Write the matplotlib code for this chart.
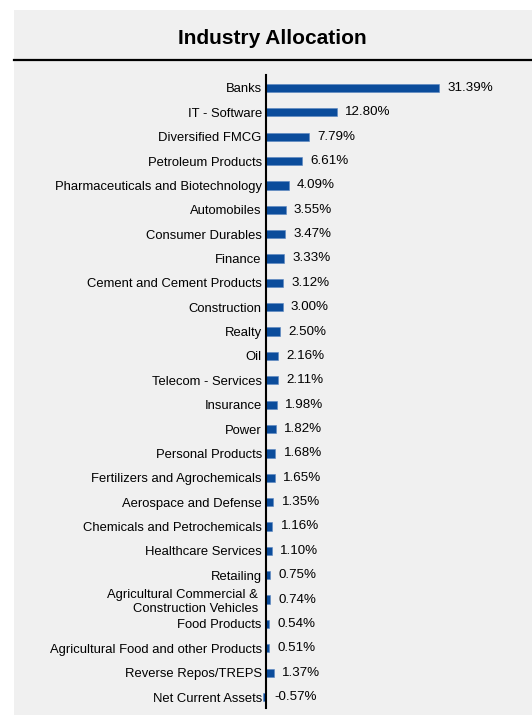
import numpy as np
from matplotlib import pyplot as plt
from matplotlib.patches import Rectangle
from matplotlib.lines import Line2D

plt.rcParams['font.family'] = ['Liberation Sans', 'DejaVu Sans']

industries = ['Banks', 'IT - Software', 'Diversified FMCG', 'Petroleum Products',
              'Pharmaceuticals and Biotechnology', 'Automobiles', 'Consumer Durables',
              'Finance', 'Cement and Cement Products', 'Construction', 'Realty', 'Oil',
              'Telecom - Services', 'Insurance', 'Power', 'Personal Products',
              'Fertilizers and Agrochemicals', 'Aerospace and Defense',
              'Chemicals and Petrochemicals', 'Healthcare Services', 'Retailing',
              'Agricultural Commercial & \nConstruction Vehicles ', 'Food Products',
              'Agricultural Food and other Products', 'Reverse Repos/TREPS',
              'Net Current Assets']
weights = [31.39, 12.80, 7.79, 6.61, 4.09, 3.55, 3.47, 3.33, 3.12, 3.00, 2.50, 2.16,
           2.11, 1.98, 1.82, 1.68, 1.65, 1.35, 1.16, 1.10, 0.75, 0.74, 0.54, 0.51,
           1.37, -0.57]

W, H = 532, 715
fig = plt.figure(figsize=(W / 100, H / 100), dpi=100)
fig.patch.set_facecolor('white')

# grey panel + title rule
fig.patches.append(Rectangle((14 / W, 0), 1, 1 - 10 / H, transform=fig.transFigure,
                             facecolor='#f0f0f0', edgecolor='none', zorder=-5))
fig.lines.append(Line2D([14 / W, 1], [1 - 60 / H, 1 - 60 / H], transform=fig.transFigure,
                        color='black', lw=1.6, zorder=-4))
fig.text(272 / W, 1 - 39 / H, 'Industry Allocation', ha='center', va='center',
         fontsize=15, fontweight='bold')

px_per_unit = 5.51
ax_left, ax_right = 255, 532
ax_top, ax_bot = 75, 708
ax = fig.add_axes([ax_left / W, 1 - ax_bot / H, (ax_right - ax_left) / W, (ax_bot - ax_top) / H])
ax.set_facecolor('none')
x0 = -(266 - ax_left) / px_per_unit
ax.set_xlim(x0, x0 + (ax_right - ax_left) / px_per_unit)

y = np.arange(len(industries))
ax.barh(y, weights, height=0.34, color='#0b4c9b', edgecolor='#5a86c0', linewidth=0.4)
ax.set_ylim(len(industries) - 1 + 0.45, -0.53)

for yi, v in zip(y, weights):
    ax.text(max(v, 0) + 1.5, yi, f'{v:.2f}%', va='center', ha='left', fontsize=9.6)

ax.set_yticks(y)
ax.set_yticklabels(industries, va='center')
ax.tick_params(axis='y', length=0, pad=3, labelsize=9.4)
ax.set_xticks([])
for s in ['top', 'right', 'bottom']:
    ax.spines[s].set_visible(False)
ax.spines['left'].set_position(('data', 0))
ax.spines['left'].set_linewidth(1.5)
ax.spines['left'].set_zorder(5)

plt.savefig('out.png', dpi=100)
